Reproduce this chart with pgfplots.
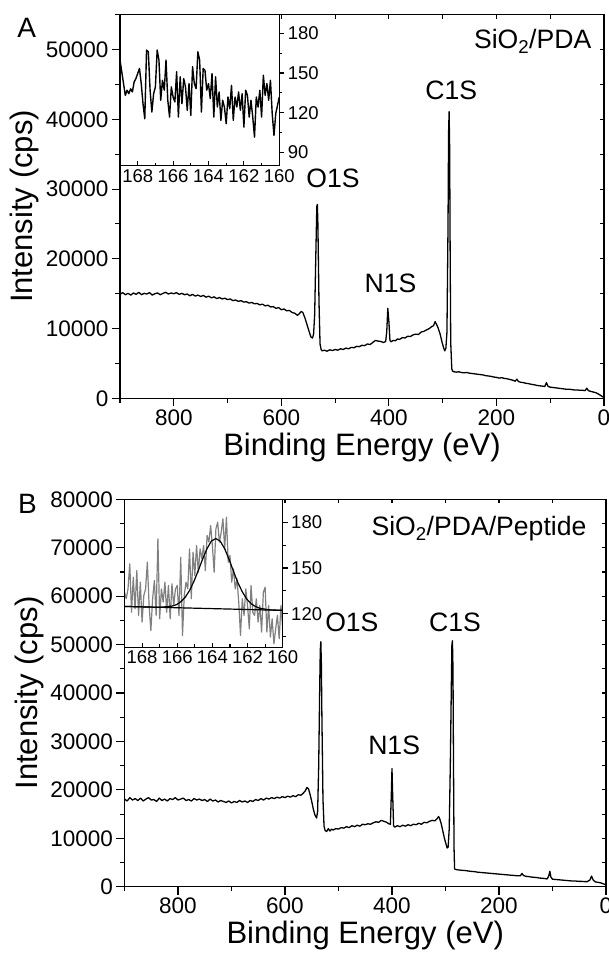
\documentclass[border=0pt]{standalone}
\usepackage{fontspec}
\setmainfont{Liberation Sans}
\usepackage{pgfplots}
\pgfplotsset{compat=1.18}

\pgfplotsset{
  xps/.style={
    scale only axis, anchor=south west,
    scaled ticks=false,
    /pgf/number format/1000 sep={},
    /pgf/number format/assume math mode=true,
    axis line style={line width=1.1pt},
    every tick/.style={line width=1.1pt, black},
    tick label style={font=\fontsize{22.5}{27}\selectfont},
    label style={font=\fontsize{31}{37}\selectfont},
  },
  inset/.style={
    scale only axis, anchor=south west,
    scaled ticks=false,
    /pgf/number format/assume math mode=true,
    axis line style={line width=1.1pt},
    every tick/.style={line width=1.1pt, black},
    tick label style={font=\fontsize{18.5}{22}\selectfont},
    xmin=160, xmax=169, x dir=reverse,
  },
}
\newcommand{\peak}{\fontsize{26.6}{30}\selectfont}

\begin{document}
\begin{tikzpicture}
\useasboundingbox (0pt,0pt) rectangle (609pt,-958pt);

% ---------------- panel A ----------------
\begin{axis}[xps,
  at={(120pt,-398.3pt)}, width=484pt, height=383.6pt,
  xmin=0, xmax=900, x dir=reverse, ymin=0, ymax=55000,
  xtick={0,200,...,800}, minor xtick={100,300,...,900},
  ytick={0,10000,...,50000}, minor ytick={5000,15000,...,55000},
  tick pos=left, tick align=outside,
  major tick length=8pt, minor tick length=4.5pt,
  xlabel={Binding Energy (eV)}, ylabel={Intensity (cps)},
]
\addplot[black, line width=1.3pt, line join=round] coordinates {
(900,14900) (895,15150) (890,14850) (885,15050) (880,14800) (875,15100)
(870,14900) (865,15200) (860,14850) (855,15050) (850,14950) (845,15150)
(840,14800) (835,15000) (830,15100) (825,14850) (820,15050) (815,15200)
(810,14950) (805,15100) (800,15000) (795,15150) (790,14900) (785,15050)
(780,14850) (775,14950) (770,14700) (765,14900) (760,14650) (755,14800)
(750,14600) (745,14750) (740,14500) (735,14650) (730,14400) (725,14550)
(720,14300) (715,14450) (710,14250) (705,14350) (700,14150) (695,14250)
(690,14000) (685,14100) (680,13900) (675,14000) (670,13800) (665,13850)
(660,13650) (655,13750) (650,13550) (645,13600) (640,13400) (635,13500)
(630,13250) (625,13350) (620,13100) (615,13150) (610,12900) (605,13000)
(600,12700) (595,12800) (590,12550) (585,12600) (580,12300) (575,12200)
(570,11900) (567,12100) (563,12450) (560,12300) (556,11500) (552,10500)
(548,9500) (545,8800) (542,8650) (540,9200) (538,12000) (536,20000)
(534,27500) (533,27800) (532,25000) (530,14000) (528,7800) (526,7000)
(524,6800) (520,6900) (515,6750) (510,6950) (505,6850) (500,7000)
(495,6900) (490,7100) (485,7000) (480,7200) (475,7100) (470,7300)
(465,7250) (460,7450) (455,7400) (450,7600) (445,7550) (440,7800)
(435,7700) (430,8000) (425,8300) (420,8200) (415,8150) (410,8000)
(406,8150) (404,9500) (402,12900) (400,11000) (398,8300) (396,8100)
(392,8300) (388,8250) (384,8500) (380,8450) (375,8700) (370,8650)
(365,8900) (360,8850) (355,9100) (350,9200) (345,9150) (340,9500)
(335,9600) (330,9800) (325,10000) (320,10300) (317,10400) (314,11000)
(312,10700) (309,10200) (305,9300) (301,8000) (298,7200) (296,6800)
(294,7200) (292,9500) (290,25000) (289,38000) (288,41100) (287,36000)
(286,20000) (285,8000) (283,4200) (281,3850) (275,3750) (270,3800)
(265,3700) (260,3650) (255,3700) (250,3600) (245,3550) (240,3500)
(235,3450) (230,3400) (225,3350) (220,3250) (215,3200) (210,3150)
(205,3050) (200,3000) (195,2900) (190,2950) (185,2850) (180,2800)
(175,2700) (170,2600) (165,2450) (162,2750) (159,2400) (155,2300)
(150,2250) (145,2150) (140,2100) (135,2000) (130,1950) (125,1850)
(120,1800) (115,1750) (110,1700) (107,2250) (104,1700) (100,1600)
(95,1550) (90,1500) (85,1450) (80,1400) (75,1350) (70,1300)
(65,1300) (60,1250) (55,1200) (50,1200) (45,1150) (40,1150)
(35,1100) (32,1450) (29,1100) (25,1000) (20,900) (15,800)
(10,600) (5,350) (0,100)
};
\node[font=\peak, anchor=base east] at (axis cs:17,50100) {SiO\textsubscript{2}/PDA};
\node[font=\peak, anchor=base] at (axis cs:284,42900) {C1S};
\node[font=\peak, anchor=base] at (axis cs:504,30260) {O1S};
\node[font=\peak, anchor=base] at (axis cs:397,15150) {N1S};
\end{axis}
\begin{axis}[xps,
  at={(120pt,-398.3pt)}, width=484pt, height=383.6pt,
  xmin=0, xmax=900, x dir=reverse, ymin=0, ymax=55000,
  xtick={0,200,...,800}, minor xtick={100,300,...,900},
  ytick={0,10000,...,50000}, minor ytick={5000,15000,...,55000},
  tick pos=right, tick align=inside,
  xticklabels={}, yticklabels={},
  major tick length=4pt, minor tick length=4pt,
]
\end{axis}
% inset A
\begin{axis}[inset,
  at={(120pt,-165.7pt)}, width=159.3pt, height=151pt,
  ymin=80, ymax=194,
  axis background/.style={fill=white},
  xtick={160,162,...,168}, minor xtick={161,163,...,169},
  ytick=\empty, tick pos=left, tick align=inside,
  major tick length=4.5pt, minor tick length=3pt,
]
\addplot[black, line width=1.4pt, line join=round] coordinates {
(169.0,159.7) (168.9,150.9) (168.8,142) (168.7,133.1) (168.6,137) (168.5,134.4)
(168.4,138) (168.3,135.7) (168.2,143.3) (168.1,145.8) (168.0,149.6) (167.9,153.4)
(167.8,142) (167.7,126.8) (167.6,115.4) (167.5,167.3) (167.4,166) (167.3,137)
(167.2,120.5) (167.1,134.4) (167.0,139.5) (166.9,167.3) (166.8,159.7) (166.7,129.4)
(166.6,144.5) (166.5,137) (166.4,159.7) (166.3,129.4) (166.2,116.7) (166.1,139.5)
(166.0,131.9) (165.9,128.1) (165.8,150.9) (165.7,116.7) (165.6,147.1) (165.5,126.8)
(165.4,145.8) (165.3,139.5) (165.2,121.8) (165.1,142) (165.0,118) (164.9,154.7)
(164.8,142) (164.7,138.2) (164.6,166) (164.5,159.7) (164.4,120.5) (164.3,153.4)
(164.2,152.1) (164.1,137) (164.0,142) (163.9,130.6) (163.8,149.6) (163.7,116.7)
(163.6,147.1) (163.5,124.3) (163.4,135.7) (163.3,114.2) (163.2,129.4) (163.1,124.3)
(163.0,111.7) (162.9,131.9) (162.8,123) (162.7,140.7) (162.6,114.2) (162.5,131.9)
(162.4,124.3) (162.3,135.7) (162.2,121.8) (162.1,134.4) (162.0,109.1) (161.9,137)
(161.8,133.1) (161.7,116.7) (161.6,129.4) (161.5,116.7) (161.4,101.5) (161.3,131.9)
(161.2,124.3) (161.1,137) (161.0,116.7) (160.9,148.3) (160.8,133.1) (160.7,142)
(160.6,129.4) (160.5,144.5) (160.4,119.3) (160.3,102.8) (160.2,119.3) (160.1,125.6)
(160.0,131.9)
};
\end{axis}
\begin{axis}[inset,
  at={(120pt,-165.7pt)}, width=159.3pt, height=151pt,
  ymin=80, ymax=194,
  xtick=\empty, ytick={90,120,150,180}, minor ytick={105,135,165},
  tick pos=right, tick align=outside, yticklabel pos=right,
  major tick length=5pt, minor tick length=3pt,
]
\end{axis}
\node[font=\fontsize{28}{32}\selectfont] at (26.7pt,-28pt) {A};

% ---------------- panel B ----------------
\begin{axis}[xps,
  at={(124.5pt,-886.7pt)}, width=481.5pt, height=387.4pt,
  xmin=0, xmax=900, x dir=reverse, ymin=0, ymax=80000,
  xtick={0,200,...,800}, minor xtick={100,300,...,900},
  ytick={0,10000,...,80000}, minor ytick={5000,15000,...,75000},
  tick pos=left, tick align=outside,
  major tick length=8pt, minor tick length=4.5pt,
  xlabel={Binding Energy (eV)}, ylabel={Intensity (cps)},
]
\addplot[black, line width=1.3pt, line join=round] coordinates {
(900,18100) (895,17700) (890,18400) (885,17900) (880,18200) (875,17800)
(870,18300) (865,17700) (860,18100) (855,18400) (850,17900) (845,18000)
(840,17600) (835,18300) (830,17800) (825,18100) (820,17700) (815,18200)
(810,18000) (805,18400) (800,17900) (795,18100) (790,18300) (785,17800)
(780,18000) (775,17700) (770,18200) (765,17900) (760,18100) (755,17800)
(750,18000) (745,17600) (740,18100) (735,17700) (730,17900) (725,17500)
(720,17800) (715,17600) (710,17400) (705,17700) (700,17300) (695,17600)
(690,17400) (685,17800) (680,17500) (675,17700) (670,17400) (665,17800)
(660,17600) (655,18000) (650,17800) (645,18200) (640,17900) (635,18300)
(630,18100) (625,18400) (620,18200) (615,18500) (610,18300) (605,18600)
(600,18400) (595,18700) (590,18500) (585,18800) (580,18600) (575,19000)
(570,18900) (566,19300) (562,19800) (559,20500) (556,20200) (553,19000)
(550,17600) (547,16000) (544,14800) (541,14200) (539,15500) (537,25000)
(535,42000) (534,49000) (533,50600) (532,46000) (531,35000) (529,18000)
(527,12500) (525,11600) (522,11400) (519,12000) (516,11500) (513,11900)
(510,11700) (505,12000) (500,11900) (495,12200) (490,12100) (485,12400)
(480,12200) (475,12600) (470,12400) (465,12700) (460,12500) (455,12900)
(450,12800) (445,13000) (440,12900) (435,13200) (430,13400) (425,13300)
(420,13700) (415,13500) (410,13300) (406,13000) (403,12900) (401,20000)
(400,24400) (399,20000) (397,12600) (395,12300) (390,12600) (385,12400)
(380,12700) (375,12500) (370,12800) (365,12600) (360,12900) (355,12800)
(350,13100) (345,12900) (340,13300) (335,13200) (330,13500) (325,13700)
(320,13600) (316,14000) (313,14500) (311,14100) (308,13000) (305,11500)
(302,10000) (299,8800) (297,8000) (295,8200) (293,12000) (291,25000)
(289,42000) (288,50000) (287,50800) (286,45000) (285,25000) (284,8000)
(283,3700) (281,3550) (275,3450) (270,3400) (265,3350) (260,3300)
(255,3200) (250,3150) (245,3100) (240,3000) (235,2950) (230,2900)
(225,2850) (220,2800) (215,2750) (210,2700) (205,2650) (200,2600)
(195,2550) (190,2500) (185,2450) (180,2400) (175,2350) (170,2300)
(165,2250) (160,2250) (157,2750) (154,2300) (150,2150) (145,2100)
(140,2000) (135,1950) (130,1900) (125,1800) (120,1750) (115,1700)
(110,1600) (107,2200) (105,3200) (103,2000) (100,1550) (95,1500)
(90,1450) (85,1400) (80,1350) (75,1300) (70,1250) (65,1200)
(60,1200) (55,1150) (50,1100) (45,1100) (40,1050) (35,1050)
(30,1400) (27,2200) (24,1400) (20,1000) (15,900) (10,800)
(5,600) (0,350)
};
\node[font=\peak, anchor=base east] at (axis cs:30,72500) {SiO\textsubscript{2}/PDA/Peptide};
\node[font=\peak, anchor=base] at (axis cs:475,52680) {O1S};
\node[font=\peak, anchor=base] at (axis cs:282,52680) {C1S};
\node[font=\peak, anchor=base] at (axis cs:396,27210) {N1S};
\end{axis}
\begin{axis}[xps,
  at={(124.5pt,-886.7pt)}, width=481.5pt, height=387.4pt,
  xmin=0, xmax=900, x dir=reverse, ymin=0, ymax=80000,
  xtick={0,200,...,800}, minor xtick={100,300,...,900},
  ytick={0,10000,...,80000}, minor ytick={5000,15000,...,75000},
  tick pos=right, tick align=inside,
  xticklabels={}, yticklabels={},
  major tick length=4pt, minor tick length=4pt,
]
\end{axis}
% inset B
\begin{axis}[inset,
  at={(124.5pt,-647.3pt)}, width=158.2pt, height=148pt,
  ymin=98, ymax=195,
  axis background/.style={fill=white},
  xtick={160,162,...,168}, minor xtick={161,163,...,169},
  ytick=\empty, tick pos=left, tick align=inside,
  major tick length=4.5pt, minor tick length=3pt,
]
\addplot[black!50, line width=1.2pt, line join=round] coordinates {
(169.0,134.1) (168.9,129.8) (168.8,136.3) (168.7,152.7) (168.6,121) (168.5,144)
(168.4,123.2) (168.3,148.3) (168.2,118.9) (168.1,140.7) (168.0,114.5) (167.9,132)
(167.8,136.3) (167.7,153.8) (167.6,125.4) (167.5,109) (167.4,129.8) (167.3,141.8)
(167.2,118.9) (167.1,169.1) (167.0,116.7) (166.9,136.3) (166.8,127.6) (166.7,140.7)
(166.6,121) (166.5,138.5) (166.4,116.7) (166.3,139.6) (166.2,125.4) (166.1,136.3)
(166.0,138.5) (165.9,118.9) (165.8,157) (165.7,105.8) (165.6,132) (165.5,140.7)
(165.4,136.3) (165.3,162.5) (165.2,129.8) (165.1,160.3) (165.0,145.1) (164.9,164.7)
(164.8,147.2) (164.7,162.5) (164.6,156) (164.5,164.7) (164.4,148.3) (164.3,171.3)
(164.2,166.9) (164.1,177.8) (164.0,164.7) (163.9,147.2) (163.8,175.6) (163.7,180)
(163.6,166.9) (163.5,173.4) (163.4,182.2) (163.3,162.5) (163.2,183.3) (163.1,153.8)
(163.0,158.2) (162.9,140.7) (162.8,149.4) (162.7,136.3) (162.6,142.9) (162.5,127.6)
(162.4,105.8) (162.3,129.8) (162.2,118.9) (162.1,136.3) (162.0,125.4) (161.9,110.1)
(161.8,138.5) (161.7,121) (161.6,118.9) (161.5,129.8) (161.4,114.5) (161.3,125.4)
(161.2,108) (161.1,134.1) (161.0,137.4) (160.9,108) (160.8,125.4) (160.7,104.7)
(160.6,116.7) (160.5,100.3) (160.4,110.1) (160.3,118.9) (160.2,103.6) (160.1,125.4)
(160.0,110.1)
};
% background line of the fit
\addplot[black, line width=1.2pt] coordinates {(169,124.8) (160,122.2)};
% fitted S2p peak
\addplot[black, line width=1.2pt, line join=round] coordinates {
(169,124.8) (168,124.5) (167,124.2) (166.3,125.0) (166.05,125.9) (165.8,127.8)
(165.55,130.7) (165.3,135.2) (165.05,141.2) (164.8,148.4) (164.55,156.0)
(164.3,162.8) (164.05,167.7) (163.8,169.3) (163.55,167.5) (163.3,162.6)
(163.05,155.6) (162.8,147.8) (162.55,140.4) (162.3,134.4) (162.05,129.7)
(161.8,126.6) (161.55,124.7) (161.3,123.6) (160.8,122.6) (160,122.2)
};
\end{axis}
\begin{axis}[inset,
  at={(124.5pt,-647.3pt)}, width=158.2pt, height=148pt,
  ymin=98, ymax=195,
  xtick=\empty, ytick={120,150,180}, minor ytick={105,135,165},
  tick pos=right, tick align=outside, yticklabel pos=right,
  major tick length=5pt, minor tick length=3pt,
]
\end{axis}
\node[font=\fontsize{28}{32}\selectfont] at (27.5pt,-504pt) {B};
\end{tikzpicture}
\end{document}
